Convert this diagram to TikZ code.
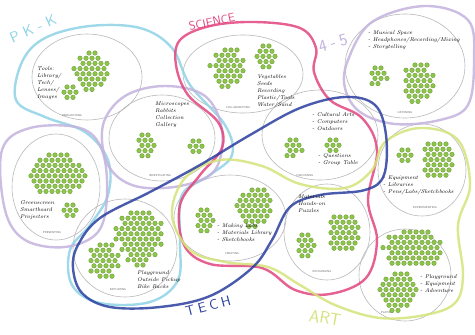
\documentclass[tikz,border=0pt]{standalone}
\usetikzlibrary{shapes.geometric}

\definecolor{pea}{HTML}{8DC54A}
\definecolor{pkk}{HTML}{8FD3E6}
\definecolor{science}{HTML}{E2457F}
\definecolor{upper}{HTML}{C3B3DE}
\definecolor{tech}{HTML}{2B3F9F}
\definecolor{art}{HTML}{D5E37A}

% a cluster of seats: centre x, top y, dots per row
\newcommand{\pod}[3]{%
  \foreach \n [count=\r] in {#3} {
    \foreach \k in {1,...,\n} {
      \fill[pea, draw=pea!75!black, line width=0.3pt]
        ({#1+(\k-1-floor(\n/2))*6+mod(\r,2)*3},{#2+(\r-1)*5.2}) circle (2.3);
    }
  }}

\begin{document}
\begin{tikzpicture}[x=1pt,y=-1pt,
    room/.style={ellipse, draw=gray!55, line width=0.6pt, inner sep=0pt},
    roomlabel/.style={font=\fontsize{2.8}{3}\selectfont\sffamily, text=gray!80!black, inner sep=0pt},
    note/.style={align=left, anchor=north west, inner sep=0pt,
      font=\fontsize{5.5}{7}\selectfont\itshape},
    zone/.style={line width=2.4pt, opacity=0.85, line join=round},
    zonelabel/.style={font=\sffamily\fontsize{14}{14}\selectfont, inner sep=0pt}]

  \useasboundingbox[fill=white] (0,0) rectangle (475,335);

  % rooms
  \foreach \name/\x/\y/\w/\h in {research/87/77/110/86, collab/243/74/120/78,
      listen/405/66/120/104, inquire/162/138/106/86, present/56/187/88/106,
      discuss/320/135/116/90, experiment/422/170/88/92, create/230/218/112/86,
      exchange/327/232/86/96, play/405/275/92/92, explore/125/248/104/98} {
    \node[room, minimum width=\w pt, minimum height=\h pt] (\name) at (\x,\y) {};
  }

  % room names
  \foreach \name/\x/\y/\txt in {research/72/116/RESEARCHING, collab/238/108/COLLABORATING,
      listen/405/113/LISTENING, inquire/160/176/INVESTIGATING, present/52/233/PRESENTING,
      discuss/305/176/DISCUSSING, experiment/425/208/EXPERIMENTING, create/232/254/CREATING,
      exchange/322/272/EXCHANGING, play/387/313/PLAYING, explore/118/290/EXPLORING} {
    \node[roomlabel] (\name-lab) at (\x,\y) {\txt};
  }

  % grade and subject zones
  \draw[zone, pkk] plot[smooth cycle, tension=0.6] coordinates {(16,100) (22,62) (45,38)
    (90,26) (140,28) (172,48) (190,85) (225,125) (232,155) (210,175) (182,195) (180,240)
    (178,280) (150,302) (100,303) (72,285) (70,250) (90,225) (108,195) (108,160) (85,132)
    (45,117)};
  \draw[zone, upper] plot[smooth cycle, tension=0.6] coordinates {(348,60) (372,22)
    (425,6) (468,20) (474,60) (468,105) (440,120) (395,124) (360,112) (345,88)};
  \draw[zone, upper] plot[smooth cycle, tension=0.6] coordinates {(2,150) (30,128)
    (80,128) (102,150) (107,195) (98,232) (65,247) (25,240) (5,210)};
  \draw[zone, upper] plot[smooth cycle, tension=0.6] coordinates {(103,125) (125,96)
    (165,86) (205,96) (222,130) (215,170) (180,186) (135,186) (108,165)};
  \draw[zone, science] plot[smooth cycle, tension=0.6] coordinates {(180,40) (210,26)
    (255,22) (300,28) (316,48) (314,72) (330,100) (362,118) (377,150) (368,200) (377,240)
    (366,278) (330,294) (295,290) (262,268) (210,264) (184,245) (180,205) (200,175)
    (222,148) (218,122) (188,95) (176,65)};
  \draw[zone, art] plot[smooth cycle, tension=0.6] coordinates {(172,215) (185,178)
    (220,160) (262,166) (300,184) (345,188) (372,170) (385,142) (420,128) (458,140)
    (470,185) (458,225) (463,275) (455,303) (425,315) (380,318) (335,305) (300,285)
    (268,267) (225,262) (190,250)};
  \draw[zone, tech] plot[smooth cycle, tension=0.6] coordinates {(78,245) (100,218)
    (150,192) (200,165) (250,135) (300,108) (345,97) (375,105) (386,135) (384,175)
    (365,190) (320,195) (290,207) (272,240) (252,268) (210,296) (160,307) (110,307)
    (82,293) (73,268)};

  \node[zonelabel, text=pkk, rotate=24, font=\sffamily\fontsize{15}{15}\selectfont] (pkk-lab) at (33,29) {P\kern5pt K\kern5pt -\kern5pt K};
  \node[zonelabel, text=science, rotate=12, font=\sffamily\fontsize{12}{12}\selectfont] (science-lab) at (212,22) {SCIENCE};
  \node[zonelabel, text=upper, rotate=15, font=\sffamily\fontsize{17}{17}\selectfont] (upper-lab) at (333,43) {4\kern4pt -\kern4pt 5};
  \node[zonelabel, text=tech, rotate=15] (tech-lab) at (208,306) {T\kern3.5pt E\kern3.5pt C\kern3.5pt H};
  \node[zonelabel, text=art, rotate=-10, font=\sffamily\fontsize{17}{17}\selectfont] (art-lab) at (325,318) {ART};

  % seats
  \pod{92}{53}{2,4,5,6,6,5,4,2}
  \pod{70}{87}{2,3,2}
  \pod{228}{50}{3,4,5,6,5,5,4,2}
  \pod{266}{46}{2,3,4,3,2}
  \pod{378}{68}{2,3,3,2}
  \pod{418}{65}{3,4,5,5,5,5,4,2}
  \pod{145}{135}{2,3,3,3,2}
  \pod{196}{141}{2,3,2}
  \pod{58}{155}{4,6,8,9,10,9,8,6}
  \pod{70}{205}{2,3,2}
  \pod{293}{140}{2,3,3,2}
  \pod{333}{140}{2,3,2}
  \pod{405}{150}{2,3,2}
  \pod{437}{144}{4,5,5,5,5,5,4}
  \pod{204}{210}{2,3,3,3,2}
  \pod{255}{190}{3,5,6,6,6,5,4,2}
  \pod{305}{235}{2,3,3,3,2}
  \pod{343}{217}{4,5,5,5,5,5,4}
  \pod{413}{232}{5,8,9,10,9,9,8}
  \pod{398}{274}{3,5,6,7,6,5,4,2}
  \pod{140}{213}{4,6,7,8,8,8,7,6,5,4,2}
  \pod{103}{245}{3,4,5,5,5,4,3}

  % notes
  \node[note] (research-note) at (37,66) {Tools:\\Library/\\Tech/\\Lenses/\\Images};
  \node[note] (collab-note) at (257,74) {Vegetables\\Seeds\\Recording\\Plastic/Tools\\Water/Sand};
  \node[note] (listen-note) at (368,30) {- Musical Space\\- Headphones/Recording/Mixing\\- Storytelling};
  \node[note] (inquire-note) at (155,102) {Microscopes\\Rabbits\\Collection\\Gallery};
  \node[note] (present-note) at (20,200) {Greenscreen\\Smartboard\\Projectors};
  \node[note] (discuss-note) at (312,112) {- Cultural Arts\\- Computers\\- Outdoors};
  \node[note] (discuss-note2) at (318,153) {- Questions\\- Group Table};
  \node[note] (experiment-note) at (383,176) {- Equipment\\- Libraries\\- Pens/Labs/Sketchbooks};
  \node[note] (create-note) at (217,223) {- Making Labs\\- Materials Library\\- Sketchbooks};
  \node[note] (exchange-note) at (298,194) {Materials\\Hands-on\\Puzzles};
  \node[note] (play-note) at (420,274) {- Playground\\- Equipment\\- Adventure};
  \node[note] (explore-note) at (137,270) {Playground\\Outside Pickup\\Bike Racks};
\end{tikzpicture}
\end{document}
